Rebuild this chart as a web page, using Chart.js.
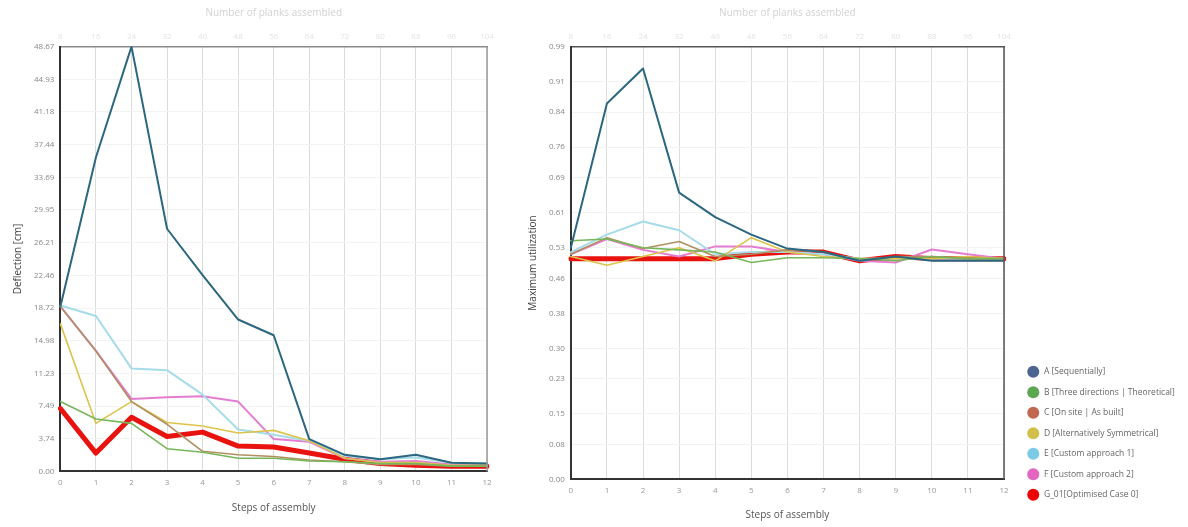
<!DOCTYPE html>
<html>
<head>
<meta charset="utf-8">
<script src="https://cdn.jsdelivr.net/npm/chart.js@4.4.0/dist/chart.umd.min.js"></script>
<style>
  html, body { margin: 0; padding: 0; background: #fff; }
  #wrap { position: relative; width: 1188px; height: 527px; }
  .box { position: absolute; top: 0; height: 527px; }
  #leftBox { left: 0; width: 505px; }
  #rightBox { left: 510px; width: 678px; }
</style>
</head>
<body>
<div id="wrap">
  <div class="box" id="leftBox"><canvas id="deflection"></canvas></div>
  <div class="box" id="rightBox"><canvas id="utilization"></canvas></div>
</div>
<script>
// steps along the bottom axis, plank counts along the top axis
const steps = ['0', '1', '2', '3', '4', '5', '6', '7', '8', '9', '10', '11', '12'];
const planks = ['8', '16', '24', '32', '40', '48', '56', '64', '72', '80', '88', '96', '104'];

const seriesNames = [
  'A [Sequentially]',
  'B [Three directions | Theoretical]',
  'C [On site | As built]',
  'D [Alternatively Symmetrical]',
  'E [Custom approach 1]',
  'F [Custom approach 2]',
  'G_01[Optimised Case 0]'
];
const lineColors = ['#2c6780', '#78b65a', '#b09060', '#dcc44c', '#a6dbe9', '#e47dd0', '#e8120f'];
const legendColors = ['#4b6591', '#5aa750', '#c0684f', '#d2c04a', '#7ccbe6', '#e465bf', '#ee0000'];
const lineWidths = [2, 1.6, 1.6, 1.6, 2, 2, 5];

// deflection [cm] per step
const deflA = [18.9, 36.0, 48.67, 27.8, 22.5, 17.4, 15.6, 3.7, 1.9, 1.4, 1.9, 1.0, 0.9];
const deflB = [8.0, 6.0, 5.5, 2.6, 2.2, 1.5, 1.5, 1.2, 1.1, 0.9, 0.9, 0.6, 0.6];
const deflC = [18.9, 13.8, 8.0, 5.4, 2.3, 1.9, 1.7, 1.3, 1.1, 0.8, 0.8, 0.6, 0.6];
const deflD = [16.9, 5.5, 8.0, 5.6, 5.2, 4.4, 4.7, 3.5, 1.5, 1.0, 1.0, 0.7, 0.7];
const deflE = [19.0, 17.8, 11.8, 11.6, 8.8, 4.8, 4.2, 3.5, 1.8, 1.4, 1.6, 1.0, 0.9];
const deflF = [18.9, 13.8, 8.3, 8.5, 8.6, 8.0, 3.7, 3.4, 1.5, 1.1, 1.2, 0.8, 0.7];
const deflG = [7.2, 2.1, 6.2, 4.0, 4.5, 2.9, 2.8, 2.1, 1.4, 0.9, 0.7, 0.6, 0.6];
const deflTicks = [0.00, 3.74, 7.49, 11.23, 14.98, 18.72, 22.46, 26.21, 29.95, 33.69, 37.44, 41.18, 44.93, 48.67];

// maximum utilization per step
const utilA = [0.53, 0.86, 0.94, 0.656, 0.60, 0.56, 0.528, 0.52, 0.50, 0.51, 0.50, 0.50, 0.50];
const utilB = [0.546, 0.55, 0.53, 0.525, 0.52, 0.496, 0.507, 0.507, 0.505, 0.50, 0.51, 0.505, 0.505];
const utilC = [0.515, 0.553, 0.528, 0.544, 0.51, 0.515, 0.525, 0.52, 0.50, 0.51, 0.51, 0.505, 0.505];
const utilD = [0.51, 0.49, 0.51, 0.53, 0.50, 0.553, 0.52, 0.51, 0.505, 0.505, 0.505, 0.51, 0.505];
const utilE = [0.52, 0.56, 0.59, 0.57, 0.515, 0.52, 0.52, 0.515, 0.505, 0.505, 0.505, 0.505, 0.505];
const utilF = [0.515, 0.55, 0.525, 0.51, 0.533, 0.533, 0.52, 0.515, 0.50, 0.496, 0.526, 0.515, 0.505];
const utilG = [0.505, 0.505, 0.505, 0.505, 0.505, 0.515, 0.52, 0.52, 0.50, 0.51, 0.505, 0.505, 0.505];
const utilTicks = [0.00, 0.08, 0.15, 0.23, 0.30, 0.38, 0.46, 0.53, 0.61, 0.69, 0.76, 0.84, 0.91, 0.99];

const FONT = "'Open Sans', 'Noto Sans', sans-serif";

// right-hand edge of the plot frame
const frameEdge = {
  id: 'frameEdge',
  afterDraw(chart, args, opts) {
    const { ctx, chartArea } = chart;
    ctx.save();
    ctx.strokeStyle = opts.color || '#999';
    ctx.lineWidth = 1.5;
    ctx.beginPath();
    ctx.moveTo(chartArea.right, chartArea.top);
    ctx.lineTo(chartArea.right, chartArea.bottom);
    ctx.stroke();
    ctx.restore();
  }
};

// nudge the legend block after layout (it is width-capped by the layout engine)
const legendShift = {
  id: 'legendShift',
  afterLayout(chart, args, opts) {
    const lg = chart.legend;
    if (!lg) return;
    const dx = opts.dx || 0, dy = opts.dy || 0;
    lg.left += dx; lg.right += dx;
    lg.top -= dy; lg.bottom -= dy;
  }
};

function buildDatasets(series) {
  return series.map((values, i) => ({
    label: seriesNames[i],
    data: values,
    borderColor: lineColors[i],
    backgroundColor: legendColors[i],
    borderWidth: lineWidths[i],
    pointRadius: 0,
    tension: 0,
    borderJoinStyle: 'round',
    borderCapStyle: 'round'
  }));
}

function buildOptions(cfg) {
  return {
    responsive: true,
    maintainAspectRatio: false,
    animation: false,
    layout: { padding: cfg.padding },
    plugins: {
      tooltip: { enabled: false },
      legend: cfg.legend,
      frameEdge: { color: cfg.rightBorder },
      legendShift: cfg.legendShift || {}
    },
    scales: {
      x: {
        type: 'category',
        position: 'bottom',
        offset: false,
        grid: { color: '#dcdcdc', lineWidth: 1, drawTicks: false },
        border: { color: '#333', width: 2 },
        ticks: { color: '#999', font: { family: FONT, size: 8 }, padding: 7, maxRotation: 0, autoSkip: false },
        title: { display: true, text: 'Steps of assembly', color: '#555', font: { family: FONT, size: 10 }, padding: { top: cfg.xTitleGap, bottom: 0 } }
      },
      x2: {
        type: 'category',
        position: 'top',
        labels: planks,
        offset: false,
        grid: { display: false, drawTicks: false },
        border: { color: cfg.topBorder, width: 1.5 },
        ticks: { color: '#e3e3e3', font: { family: FONT, size: 8 }, padding: 5, maxRotation: 0, autoSkip: false },
        title: { display: true, text: 'Number of planks assembled', color: '#d2d2d2', font: { family: FONT, size: 10 }, padding: { top: 0, bottom: 8 } }
      },
      y: {
        min: 0,
        max: cfg.ticks[cfg.ticks.length - 1],
        afterBuildTicks: (axis) => { axis.ticks = cfg.ticks.map(v => ({ value: v })); },
        grid: { color: '#f3f3f3', drawTicks: false },
        border: { color: '#333', width: 2 },
        ticks: {
          color: '#888', font: { family: FONT, size: 8 }, padding: 6,
          callback: (v) => Number(v).toFixed(2)
        },
        title: { display: true, text: cfg.yTitle, color: '#444', font: { family: FONT, size: 10 }, padding: { top: 0, bottom: 4 } }
      }
    }
  };
}

new Chart(document.getElementById('deflection'), {
  type: 'line',
  data: {
    labels: steps,
    datasets: buildDatasets([deflA, deflB, deflC, deflD, deflE, deflF, deflG])
  },
  options: buildOptions({
    ticks: deflTicks,
    yTitle: 'Deflection [cm]',
    topBorder: '#8a8a8a',
    rightBorder: '#9a9a9a',
    xTitleGap: 7,
    padding: { left: 12, right: 18, top: 7, bottom: 13 },
    legend: { display: false }
  }),
  plugins: [frameEdge, legendShift]
});

new Chart(document.getElementById('utilization'), {
  type: 'line',
  data: {
    labels: steps,
    datasets: buildDatasets([utilA, utilB, utilC, utilD, utilE, utilF, utilG])
  },
  options: buildOptions({
    ticks: utilTicks,
    yTitle: 'Maximum utilization',
    topBorder: '#555',
    rightBorder: '#555',
    xTitleGap: 6,
    legendShift: { dx: 13, dy: 10 },
    padding: { left: 17, right: 25, top: 7, bottom: 6 },
    legend: {
      display: true,
      position: 'right',
      align: 'end',
      labels: {
        usePointStyle: true,
        pointStyle: 'circle',
        color: '#666',
        font: { family: FONT, size: 8.5 },
        padding: 12,
        generateLabels: (chart) => chart.data.datasets.map((ds, i) => ({
          text: ' ' + ds.label,
          fillStyle: legendColors[i],
          strokeStyle: legendColors[i],
          lineWidth: 0,
          pointStyle: 'circle',
          fontColor: '#666',
          datasetIndex: i,
          hidden: false
        }))
      }
    }
  }),
  plugins: [frameEdge, legendShift]
});
</script>
</body>
</html>
